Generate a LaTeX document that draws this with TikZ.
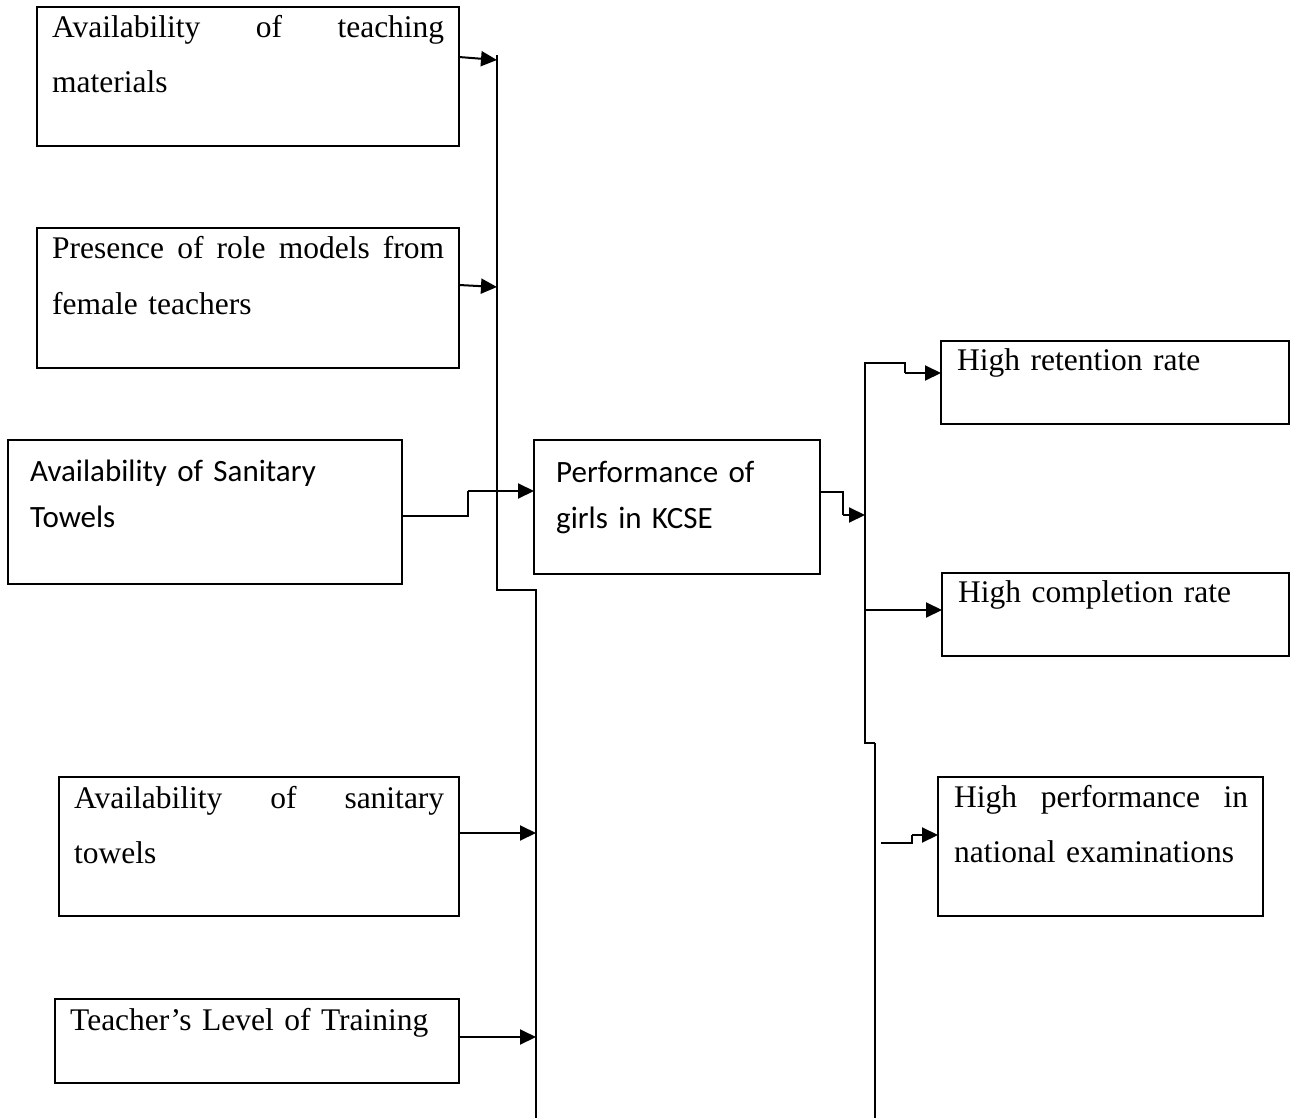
\documentclass[tikz,border=0pt]{standalone}
\usepackage{fontspec}
\setmainfont{Liberation Serif}
\newfontfamily\calib{Carlito}
\usetikzlibrary{arrows.meta,calc}
\tikzset{
  box/.style={draw, line width=2pt, anchor=north west, inner sep=0pt, outer sep=0pt},
  sertxt/.style={anchor=base west, inner sep=0pt, align=left, font=\fontsize{31.5}{55}\selectfont},
  santxt/.style={anchor=base west, inner sep=0pt, align=left, font=\calib\fontsize{31}{46}\selectfont},
  arr/.style={line width=2pt, -{Triangle[length=16pt,width=15pt]}},
  ln/.style={line width=2pt}
}
\begin{document}
\begin{tikzpicture}[x=1pt,y=-1pt]
\useasboundingbox (0,0) rectangle (1291,1118);
% boxes
\node[box, minimum width=422pt, minimum height=139pt] (b1) at (37,7) {};
\node[box, minimum width=422pt, minimum height=140pt] (b2) at (37,228) {};
\node[box, minimum width=394pt, minimum height=144pt] (b3) at (8,440) {};
\node[box, minimum width=286pt, minimum height=134pt] (b4) at (534,440) {};
\node[box, minimum width=348pt, minimum height=83pt] (b5) at (941,341) {};
\node[box, minimum width=347pt, minimum height=83pt] (b6) at (942,573) {};
\node[box, minimum width=325pt, minimum height=139pt] (b7) at (938,777) {};
\node[box, minimum width=400pt, minimum height=139pt] (b8) at (59,777) {};
\node[box, minimum width=404pt, minimum height=84pt] (b9) at (55,999) {};
% texts
\node[sertxt, text width=392pt] (t1) at ($(b1.north west)+(15,31)$) {\makebox[392pt][l]{Availability\hfill of\hfill teaching}\\materials};
\node[sertxt, text width=392pt] (t2) at ($(b2.north west)+(15,31)$) {\makebox[392pt][l]{Presence\hfill of\hfill role\hfill models\hfill from}\\female teachers};
\node[santxt, text width=360pt] (t3) at ($(b3.north west)+(22,41)$) {Availability of Sanitary\\Towels};
\node[santxt, text width=260pt] (t4) at ($(b4.north west)+(22,42)$) {Performance of\\girls in KCSE};
\node[sertxt, text width=330pt] (t5) at ($(b5.north west)+(16,29)$) {High retention rate};
\node[sertxt, text width=330pt] (t6) at ($(b6.north west)+(16,29)$) {High completion rate};
\node[sertxt, text width=294pt] (t7) at ($(b7.north west)+(16,30)$) {\makebox[294pt][l]{High\hfill performance\hfill in}\\national examinations};
\node[sertxt, text width=370pt] (t8) at ($(b8.north west)+(15,31)$) {\makebox[370pt][l]{Availability\hfill of\hfill sanitary}\\towels};
\node[sertxt, text width=380pt] (t9) at ($(b9.north west)+(15,31)$) {Teacher’s Level of Training};
% spine coordinates
\coordinate (lTop) at (497,55);
\coordinate (lStep) at (497,590);
\coordinate (lStep2) at (536,590);
\coordinate (lBot) at (536,1118);
\coordinate (rTop) at (865,363);
\coordinate (rStep) at (865,743);
\coordinate (rStep2) at (875,743);
\coordinate (rBot) at (875,1118);
\draw[ln] (lTop) -- (lStep) -- (lStep2) -- (lBot);
\draw[ln] (rStep2) -- (rStep) -- (rTop) -- (905,363) -- (905,373);
\draw[ln] (rStep2) -- (rBot);
% arrows into left spine
\draw[arr] ($(b1.north east)+(0,50)$) -- (497,60);
\draw[arr] ($(b2.north east)+(0,57)$) -- (497,287);
\draw[ln] ($(b3.north east)+(0,76)$) -- (468,516) -- (468,491);
\draw[arr] (468,491) -- ($(b4.north west)+(0,51)$);
\draw[arr] ($(b8.north east)+(0,56)$) -- (536,833);
\draw[arr] ($(b9.north east)+(0,38)$) -- (536,1037);
% from performance
\draw[ln] ($(b4.north east)+(0,52)$) -- (843,492) -- (843,515);
\draw[arr] (843,515) -- (865,515);
% into right boxes
\draw[arr] (905,373) -- ($(b5.north west)+(0,32)$);
\draw[arr] (865,610) -- ($(b6.north west)+(0,37)$);
\draw[ln] (881,843) -- (912,843) -- (912,835);
\draw[arr] (912,835) -- ($(b7.north west)+(0,58)$);
\end{tikzpicture}
\end{document}
